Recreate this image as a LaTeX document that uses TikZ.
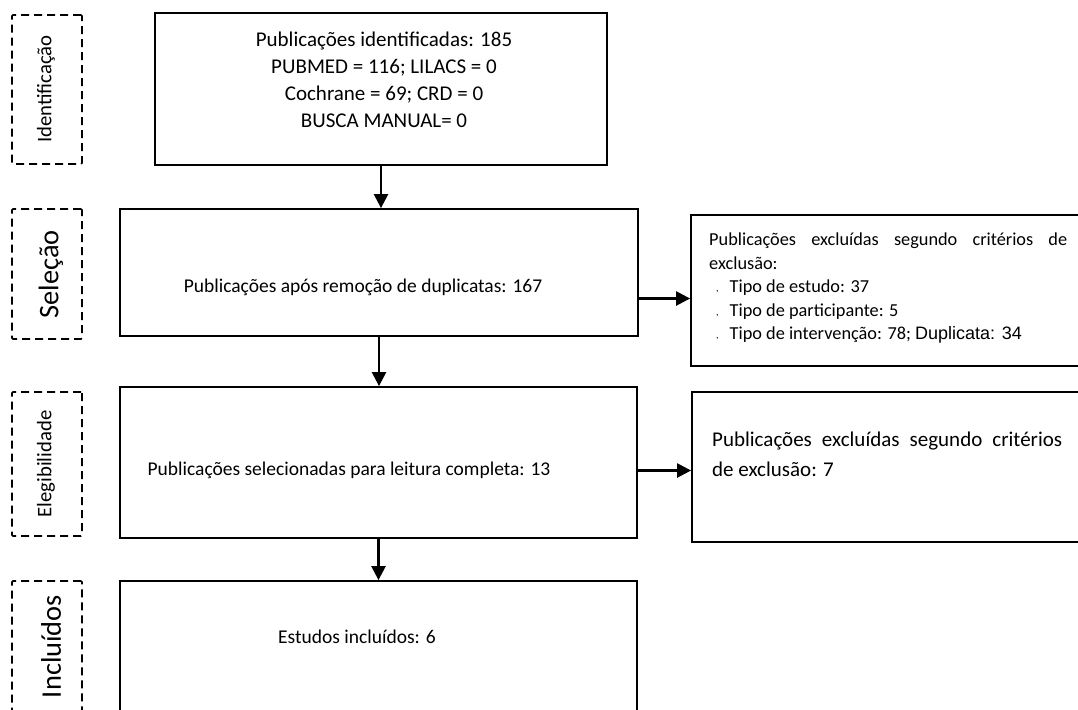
\documentclass[tikz,border=0pt]{standalone}
\usepackage{fontspec}
\setmainfont{Carlito}
\newfontfamily\arialf{Liberation Sans}
\usetikzlibrary{arrows.meta}
\newcommand{\tickbul}{\hspace*{7pt}\raisebox{1pt}{\fontsize{10}{10}\selectfont ,}\hspace{11pt}}
\tikzset{
  mbox/.style={draw, line width=1.8pt, inner sep=0pt},
  phasebox/.style={draw, line width=1.6pt, dash pattern=on 8pt off 5pt, inner sep=0pt, rounded corners=1pt},
  txt/.style={inner sep=0pt, font=\fontsize{21}{27}\selectfont, align=center},
  txtb/.style={inner sep=0pt, font=\fontsize{19.5}{24}\selectfont, align=center},
  phasesmall/.style={inner sep=0pt, rotate=90, font=\fontsize{20.7}{24}\selectfont},
  phasebig/.style={inner sep=0pt, rotate=90, font=\fontsize{28.4}{32}\selectfont},
  arr/.style={line width=2.4pt, -{Triangle[length=14pt,width=14pt]}},
}
\begin{document}
\begin{tikzpicture}[x=1pt,y=-1pt]
\clip (0,0) rectangle (1078,709);
\fill[white] (0,0) rectangle (1078,709);

% phase labels (dashed)
\node[phasebox, minimum width=70pt, minimum height=149pt] (s1) at (47,89.5) {};
\node[phasebox, minimum width=70pt, minimum height=130pt] (s2) at (47,274) {};
\node[phasebox, minimum width=70pt, minimum height=144pt] (s3) at (47,464) {};
\node[phasebox, minimum width=70pt, minimum height=180pt] (s4) at (47,671) {};
\node[phasesmall] (t1) at (46,89) {Identificação};
\node[phasebig] (t2) at (51,274.5) {Seleção};
\node[phasesmall] (t3) at (46,464) {Elegibilidade};
\node[phasebig] (t4) at (51,646.5) {Incluídos};

% main boxes
\node[mbox, minimum width=452pt, minimum height=152pt] (b1) at (381,89) {};
\node[mbox, minimum width=518pt, minimum height=127pt] (b2) at (379,272.5) {};
\node[mbox, minimum width=517pt, minimum height=151pt] (b3) at (378.5,462.5) {};
\node[mbox, minimum width=517pt, minimum height=180pt] (b4) at (378.5,671) {};

\node[txt] (x1) at (384,80) {Publicações identificadas: 185\\PUBMED = 116; LILACS = 0\\Cochrane = 69; CRD = 0\\BUSCA MANUAL= 0};
\node[txtb] (x2) at (363,287) {Publicações após remoção de duplicatas: 167};
\node[txtb] (x3) at (349,470) {Publicações selecionadas para leitura completa: 13};
\node[txtb] (x4) at (357,637) {Estudos incluídos: 6};

% right boxes
\node[mbox, minimum width=400pt, minimum height=151pt] (r1) at (891,290.5) {};
\node[mbox, minimum width=400pt, minimum height=150pt] (r2) at (892,467) {};

\node[inner sep=0pt, anchor=north west, text width=358pt, align=justify,
      font=\fontsize{18.3}{23.5}\selectfont] (y1) at (709,233)
 {Publicações excluídas segundo critérios de\linebreak
  exclusão:\\
  \tickbul Tipo de estudo: 37\\
  \tickbul Tipo de participante: 5\\
  \tickbul Tipo de intervenção: 78; {\arialf\fontsize{18}{23.5}\selectfont Duplicata: 34}};

\node[inner sep=0pt, anchor=north west, text width=350pt, align=justify,
      font=\fontsize{21}{30}\selectfont] (y2) at (712,432)
 {Publicações excluídas segundo critérios\linebreak de exclusão: 7};

% connectors
\coordinate (c2) at ([yshift=-26pt]b2.east);
\coordinate (c3) at ([yshift=-8pt]b3.east);
\draw[arr] (b1.south) -- (b1.south |- b2.north);
\draw[arr] (c2) -- (c2 -| r1.west);
\draw[arr] (b2.south) -- (b2.south |- b3.north);
\draw[arr] (c3) -- (c3 -| r2.west);
\draw[arr] (b3.south) -- (b3.south |- b4.north);
\end{tikzpicture}
\end{document}
